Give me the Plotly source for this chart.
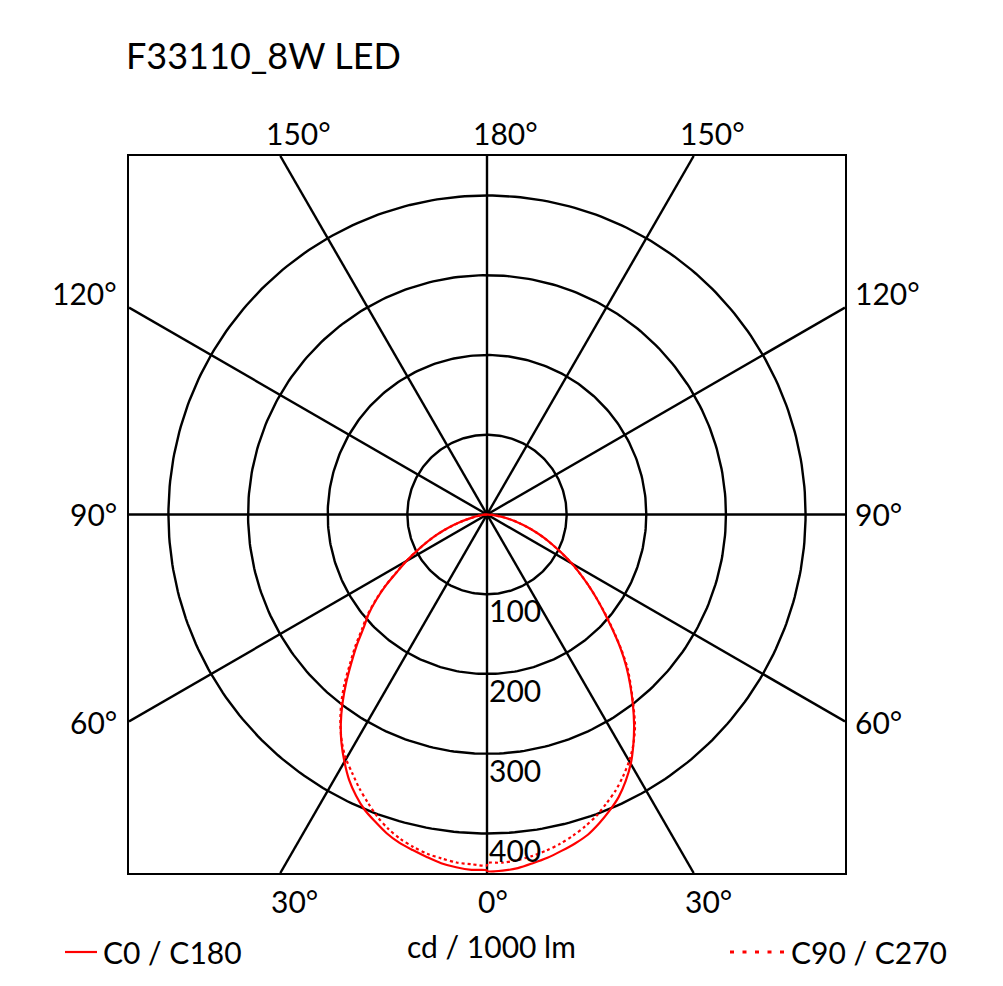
import numpy as np
import plotly.graph_objects as go

TITLE = "F33110_8W LED"
UNIT_LABEL = "cd / 1000 lm"
SERIES_NAMES = ["C0 / C180", "C90 / C270"]

# gamma angles (deg) measured from nadir
gamma = [0, 2.5, 5, 7.5, 10, 12.5, 15, 17.5, 20, 22.5, 25, 27.5, 30, 32.5, 35,
         37.5, 40, 42.5, 45, 47.5, 50, 52.5, 55, 57.5, 60, 62.5, 65, 67.5, 70,
         72.5, 75, 77.5, 80, 82.5, 85, 87.5, 90]

# intensities cd/1000 lm (right half: C0 / C270, left half: C180 / C90)
c0 = [447, 447, 445, 441, 437, 432, 427, 421, 412, 402, 391, 377, 361, 342, 322,
      301, 280, 259, 237, 214, 193, 174, 156, 139, 123, 107, 92, 79, 66,
      54, 43, 32, 22, 13, 6, 2, 0]
c180 = [446, 446, 444, 441, 436, 431, 426, 419, 410, 401, 389, 375, 358, 340, 320,
        298, 275, 252, 231, 210, 194, 175, 155, 134, 117, 100, 85, 71, 57,
        44, 32, 21, 13, 7, 3, 1, 0]
c90 = [440, 439, 438, 435, 432, 427, 421, 413, 403, 391, 379, 366, 354, 339, 321,
       301, 279, 255, 234, 213, 196, 176, 156, 135, 118, 100, 85, 71, 57,
       44, 32, 21, 13, 7, 3, 1, 0]
c270 = [437, 437, 435, 432, 428, 423, 417, 410, 402, 392, 382, 370, 357, 342, 324,
        302, 281, 261, 238, 215, 194, 174, 156, 139, 123, 107, 92, 79, 66,
        54, 43, 32, 22, 13, 6, 2, 0]

rings = [100, 200, 300, 400]
ring_labels = ["100", "200", "300", "400"]
spoke_angles = [0, 30, 60, 90, 120, 150]

# edge labels: (text, gamma, side of picture: -1 left half, +1 right half)
top_labels = [("150°", 150, -1), ("180°", 180, 1), ("150°", 150, 1)]
bottom_labels = [("30°", 30, -1), ("0°", 0, 1), ("30°", 30, 1)]
side_labels = [("120°", 120), ("90°", 90), ("60°", 60)]

R = 449.5  # half range of the square frame

RED = "#ff0000"
FONT = "Lato"
FS = 30
GRID_W = 2.4

# page offset (body margin) between figure coordinates and screen coordinates
OX, OY = 8, 7
W, H = 1003 - 16, 986 - 16
L = 129 - OX
T = 155 - OY
RM = W - (845 - OX)
B = H - (872 - OY)


def to_xy(ang, r, side):
    a = np.radians(np.asarray(ang, dtype=float))
    r = np.asarray(r, dtype=float)
    return side * r * np.sin(a), -r * np.cos(a)


def edge_point(ang, side):
    a = np.radians(ang)
    sx, sy = side * np.sin(a), -np.cos(a)
    t = R / max(abs(sx), abs(sy))
    return sx * t, sy * t


def scr_to_paper(px, py):
    fx, fy = px - OX, py - OY
    return (fx - L) / (W - L - RM), (H - B - fy) / (H - T - B)


fig = go.Figure()

# rings
th = np.linspace(0, 2 * np.pi, 361)
for r in rings:
    fig.add_trace(go.Scatter(x=r * np.cos(th), y=r * np.sin(th), mode="lines",
                             line=dict(color="black", width=GRID_W), hoverinfo="skip",
                             showlegend=False))
# spokes
for ang in spoke_angles:
    x1, y1 = edge_point(ang, 1)
    x2, y2 = edge_point(ang + 180, 1)
    fig.add_trace(go.Scatter(x=[x1, x2], y=[y1, y2], mode="lines",
                             line=dict(color="black", width=GRID_W), hoverinfo="skip",
                             showlegend=False))

# curves
g_rev = gamma[::-1]
xl, yl = to_xy(g_rev, c180[::-1], -1)
xr, yr = to_xy(gamma, c0, 1)
fig.add_trace(go.Scatter(x=np.concatenate([xl, xr]), y=np.concatenate([yl, yr]),
                         mode="lines", name=SERIES_NAMES[0],
                         line=dict(color=RED, width=2.2, shape="spline", smoothing=0.8),
                         showlegend=False))
xl, yl = to_xy(g_rev, c90[::-1], -1)
xr, yr = to_xy(gamma, c270, 1)
fig.add_trace(go.Scatter(x=np.concatenate([xl, xr]), y=np.concatenate([yl, yr]),
                         mode="lines", name=SERIES_NAMES[1],
                         line=dict(color=RED, width=2.2, dash="3px,3px", shape="spline", smoothing=0.8),
                         showlegend=False))

ann = []
font = dict(family=FONT, size=FS, color="black")
for txt, ang, side in top_labels:
    x, y = edge_point(ang, side)
    ann.append(dict(x=x, y=R, xref="x", yref="y", text=txt, showarrow=False,
                    xanchor="left", yanchor="middle", xshift=-16, yshift=23, font=font))
for txt, ang, side in bottom_labels:
    x, y = edge_point(ang, side)
    ann.append(dict(x=x, y=-R, xref="x", yref="y", text=txt, showarrow=False,
                    xanchor="left", yanchor="middle", xshift=-11, yshift=-28, font=font))
side_shift = {120: 15, 90: 1, 60: -1}
for txt, ang in side_labels:
    x, y = edge_point(ang, -1)
    ann.append(dict(x=-R, y=y, xref="x", yref="y", text=txt, showarrow=False,
                    xanchor="right", yanchor="middle", xshift=-10, yshift=side_shift[ang], font=font))
    x, y = edge_point(ang, 1)
    ann.append(dict(x=R, y=y, xref="x", yref="y", text=txt, showarrow=False,
                    xanchor="left", yanchor="middle", xshift=8, yshift=side_shift[ang], font=font))
for r, txt in zip(rings, ring_labels):
    ann.append(dict(x=0, y=-r, xref="x", yref="y", text=txt, showarrow=False,
                    xanchor="left", yanchor="middle", xshift=0, yshift=-16, font=font))

# title
tx, ty = scr_to_paper(124, 54)
ann.append(dict(x=tx, y=ty, xref="paper", yref="paper", text=TITLE, showarrow=False,
                xanchor="left", yanchor="middle", font=dict(family=FONT, size=36, color="black")))

# legend row
lx1, ly = scr_to_paper(65, 951)
lx2, _ = scr_to_paper(97, 951)
dx1, _ = scr_to_paper(730, 951)
dx2, _ = scr_to_paper(784, 951)
fig.add_shape(type="line", xref="paper", yref="paper", x0=lx1, x1=lx2, y0=ly, y1=ly,
              line=dict(color=RED, width=2.2))
fig.add_shape(type="line", xref="paper", yref="paper", x0=dx1, x1=dx2, y0=ly, y1=ly,
              line=dict(color=RED, width=3, dash="4px,8.5px"))
a1x, _ = scr_to_paper(101, 950)
a2x, _ = scr_to_paper(789, 950)
cx, cy = scr_to_paper(492, 945)
ann.append(dict(x=a1x, y=ly, xref="paper", yref="paper", text=SERIES_NAMES[0], showarrow=False,
                xanchor="left", yanchor="middle", font=font))
ann.append(dict(x=a2x, y=ly, xref="paper", yref="paper", text=SERIES_NAMES[1], showarrow=False,
                xanchor="left", yanchor="middle", font=font))
ann.append(dict(x=cx, y=cy, xref="paper", yref="paper", text=UNIT_LABEL, showarrow=False,
                xanchor="center", yanchor="middle", font=font))

fig.update_layout(
    annotations=ann,
    width=W, height=H,
    margin=dict(l=L, r=RM, t=T, b=B, pad=0),
    paper_bgcolor="white", plot_bgcolor="white",
    showlegend=False,
    xaxis=dict(range=[-R, R], showgrid=False, zeroline=False, showticklabels=False,
               ticks="", showline=True, mirror=True, linecolor="black", linewidth=GRID_W),
    yaxis=dict(range=[-R, R], showgrid=False, zeroline=False, showticklabels=False,
               ticks="", showline=True, mirror=True, linecolor="black", linewidth=GRID_W),
)

fig.write_html("out.html")
